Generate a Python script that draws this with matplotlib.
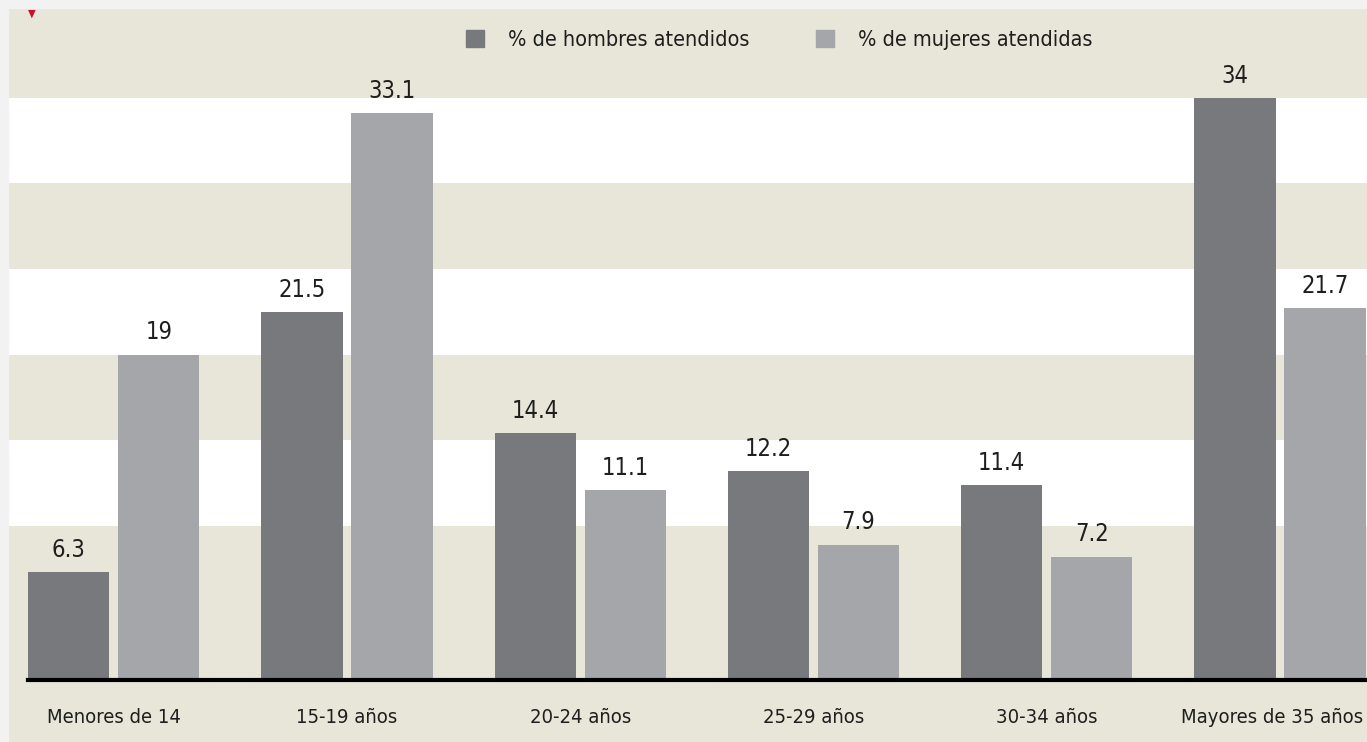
import matplotlib.pyplot as plt
import matplotlib.transforms as mtransforms
import numpy as np
from matplotlib.patches import Rectangle, Patch

groups = ["Menores de 14", "15-19 años", "20-24 años", "25-29 años", "30-34 años", "Mayores de 35 años"]
hombres = [6.3, 21.5, 14.4, 12.2, 11.4, 34]
mujeres = [19, 33.1, 11.1, 7.9, 7.2, 21.7]
labels_series = ["% de hombres atendidos", "% de mujeres atendidas"]

DARK = "#77797c"
LIGHT = "#a4a6a9"
BEIGE = "#e7e6d8"
MARGIN = "#f2f2f2"
TEXT = "#1e1e1e"

plt.rcParams["font.family"] = ["DejaVu Sans"]
plt.rcParams["font.stretch"] = "condensed"

W, H = 1367, 742
fig = plt.figure(figsize=(W / 100, H / 100), dpi=100, facecolor=BEIGE)

# light grey frame strips on the top and left
fig.patches.append(Rectangle((0, 0), 8 / W, 1, transform=fig.transFigure, color=MARGIN, zorder=0))
fig.patches.append(Rectangle((0, 1 - 8 / H), 1, 8 / H, transform=fig.transFigure, color=MARGIN, zorder=0))

ax = fig.add_axes([8 / W, 62 / H, 1 - 8 / W, (680 - 8) / H])
ax.set_facecolor(BEIGE)

x = np.arange(len(groups))
width = 0.348
offset = 0.193

ax.set_xlim(-0.453, 5.373)
ax.set_ylim(0, 39.25)

# alternating white bands
for lo in [9, 19, 29]:
    ax.axhspan(lo, lo + 5, color="white", zorder=0, lw=0)

ax.bar(x - offset, hombres, width, color=DARK, zorder=2, label=labels_series[0])
ax.bar(x + offset, mujeres, width, color=LIGHT, zorder=2, label=labels_series[1])

for xi, v in zip(x, hombres):
    ax.text(xi - offset, v + 0.6, f"{v:g}", ha="center", va="bottom", fontsize=17, color=TEXT)
for xi, v in zip(x, mujeres):
    ax.text(xi + offset, v + 0.6, f"{v:g}", ha="center", va="bottom", fontsize=17, color=TEXT)

left_edge = -offset - width / 2
xmin_frac = (left_edge - ax.get_xlim()[0]) / (ax.get_xlim()[1] - ax.get_xlim()[0])
ax.axhline(0, xmin=xmin_frac, xmax=1, color="black", lw=3, zorder=3, clip_on=False)

for s in ax.spines.values():
    s.set_visible(False)
ax.set_yticks([])
ax.set_xticks(x)
ax.set_xticklabels(groups, fontsize=14.5, color=TEXT)
ax.tick_params(axis="x", length=0, pad=20)

# nudge the last label so it stays inside the picture
last = ax.get_xticklabels()[-1]
last.set_transform(last.get_transform() + mtransforms.ScaledTranslation(-8 / 100, 0, fig.dpi_scale_trans))

handles = [Patch(color=DARK), Patch(color=LIGHT)]
fig.legend(handles, labels_series, loc="center", bbox_to_anchor=(779 / W, 1 - 40 / H), ncol=2,
           frameon=False, fontsize=15.5, handlelength=0.85, handleheight=0.85, columnspacing=3.1,
           handletextpad=1.1, labelcolor=TEXT)

# small red marker at top-left
fig.text(32 / W, 1 - 14 / H, "\u25BC", color="#c8102e", fontsize=8, ha="center", va="center")

fig.savefig("out.png", dpi=100, facecolor=BEIGE)
